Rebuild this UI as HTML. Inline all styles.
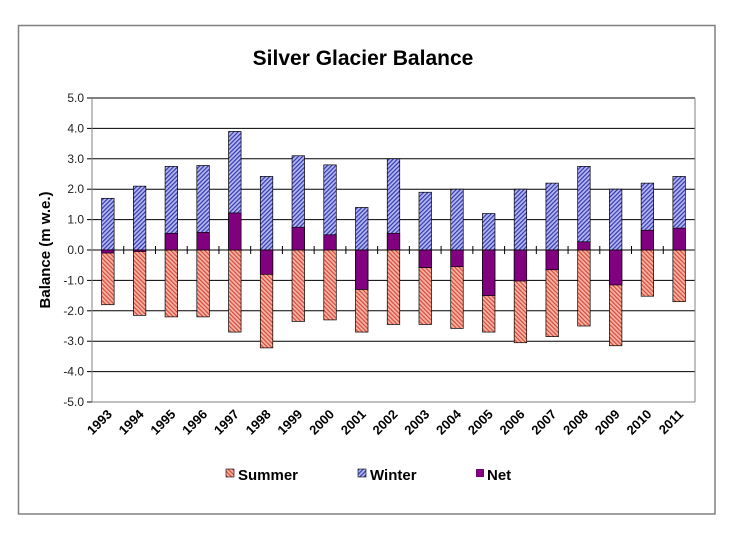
<!DOCTYPE html>
<html><head><meta charset="utf-8"><style>
html,body{margin:0;padding:0;background:#fff;}
svg{display:block;font-family:"Liberation Sans",Arial,sans-serif;}
</style></head><body>
<svg id="c" width="741" height="556" viewBox="0 0 741 556" xmlns="http://www.w3.org/2000/svg">
<defs>
<pattern id="pw" patternUnits="userSpaceOnUse" width="3" height="3" patternTransform="rotate(45)">
<rect width="3" height="3" fill="#b4b8f4"/><rect width="1.2" height="3" fill="#3438a8"/></pattern>
<pattern id="ps" patternUnits="userSpaceOnUse" width="3" height="3" patternTransform="rotate(-45)">
<rect width="3" height="3" fill="#f8b4a4"/><rect width="1.2" height="3" fill="#d24a3c"/></pattern>
</defs>
<rect x="18.5" y="25.5" width="696.5" height="488.5" fill="#fff" stroke="#808080" stroke-width="1.5"/>
<text x="363" y="65" font-size="21" font-weight="bold" text-anchor="middle" fill="#000">Silver Glacier Balance</text>
<text transform="translate(50,250) rotate(-90)" font-size="15" font-weight="bold" text-anchor="middle" fill="#000">Balance (m w.e.)</text>
<g id="g"></g>
<g font-size="15" font-weight="bold" fill="#000">
<rect x="226" y="469" width="8" height="8" fill="url(#ps)" stroke="#000" stroke-width="0.6"/><text x="238" y="480">Summer</text>
<rect x="358" y="469" width="8" height="8" fill="url(#pw)" stroke="#000" stroke-width="0.6"/><text x="370" y="480">Winter</text>
<rect x="476" y="469" width="8" height="8" fill="#800080"/><text x="487" y="480">Net</text>
</g>
</svg>
<script>
var g=document.getElementById('g'),s='';
var X0=92,X1=695,Y5=98,U=30.4,Z=Y5+5*U,cw=(X1-X0)/19,bw=12.5;
function y(v){return Z-v*U;}
for(var i=-5;i<=5;i++){var yy=y(i);
 if(i>-5)s+='<line x1="'+X0+'" x2="'+X1+'" y1="'+yy+'" y2="'+yy+'" stroke="#000" stroke-width="1"/>';
 s+='<line x1="'+(X0-5)+'" x2="'+X0+'" y1="'+yy+'" y2="'+yy+'" stroke="#000"/>';
 s+='<text x="'+(X0-8)+'" y="'+(yy+4)+'" font-size="12" text-anchor="end" fill="#222">'+i.toFixed(1)+'</text>';}
s+='<line x1="'+X1+'" x2="'+X1+'" y1="'+Y5+'" y2="'+y(-5)+'" stroke="#808080"/>';
s+='<line x1="'+X0+'" x2="'+X1+'" y1="'+y(-5)+'" y2="'+y(-5)+'" stroke="#808080"/>';
s+='<line x1="'+X0+'" x2="'+X0+'" y1="'+Y5+'" y2="'+y(-5)+'" stroke="#808080"/>';
var D=[[1.7,-1.8,-0.1],[2.1,-2.15,-0.05],[2.75,-2.2,0.55],[2.78,-2.2,0.58],[3.9,-2.7,1.22],[2.42,-3.22,-0.8],[3.1,-2.35,0.75],[2.8,-2.3,0.5],[1.4,-2.7,-1.3],[3.0,-2.45,0.55],[1.9,-2.45,-0.58],[2.0,-2.58,-0.55],[1.2,-2.7,-1.5],[2.0,-3.05,-1.02],[2.2,-2.85,-0.65],[2.75,-2.5,0.27],[2.0,-3.15,-1.15],[2.2,-1.52,0.65],[2.42,-1.7,0.72]];
for(var k=0;k<19;k++){var c=X0+(k+0.5)*cw,x=c-bw/2,d=D[k];
 s+='<rect x="'+x+'" y="'+y(d[0])+'" width="'+bw+'" height="'+(d[0]*U)+'" fill="url(#pw)" stroke="#000" stroke-width="0.7"/>';
 s+='<rect x="'+x+'" y="'+Z+'" width="'+bw+'" height="'+(-d[1]*U)+'" fill="url(#ps)" stroke="#000" stroke-width="0.7"/>';
 var t=Math.min(Z,y(d[2])),h=Math.abs(d[2])*U;
 s+='<rect x="'+x+'" y="'+t+'" width="'+bw+'" height="'+h+'" fill="#800080" stroke="#000" stroke-width="0.7"/>';
 if(k>0)s+='<line x1="'+(X0+k*cw)+'" x2="'+(X0+k*cw)+'" y1="'+(Z-4)+'" y2="'+(Z+4)+'" stroke="#000"/>';
 s+='<text transform="translate('+(c+5)+','+(y(-5)+13)+') rotate(-45)" font-size="13" font-weight="bold" text-anchor="end" fill="#000">'+(1993+k)+'</text>';}
g.innerHTML=s;
</script>
</body></html>
